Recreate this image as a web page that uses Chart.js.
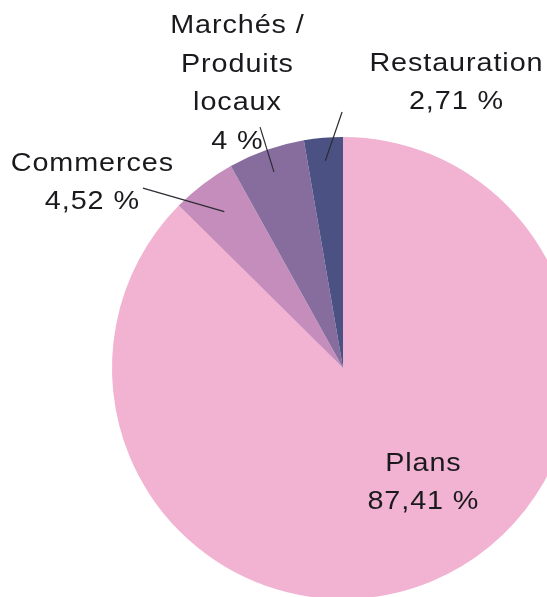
<html>
  <head>
    <script src="https://cdn.jsdelivr.net/npm/chart.js@4/dist/chart.umd.min.js"></script>
  </head>
  <body>
    <div id="wrap"><canvas id="pie"></canvas></div>
    <style>
      html, body{
        margin: 0;
        overflow: hidden;
        background: #ffffff;
      }
      #wrap{
        position: absolute;
        left: 0;
        top: 0;
        width: 686px;
        height: 736px;
      }
    </style>
    <script>
      // slices, clockwise from 12 o'clock
      var categories = [['Plans'], ['Commerces'], ['Marchés /', 'Produits', 'locaux'], ['Restauration']];
      var shares = [87.41, 4.52, 5.36, 2.71];
      var shareLabels = ['87,41 %', '4,52 %', '4 %', '2,71 %'];
      var colors = ['#f2b3d2', '#c58dbb', '#876d9e', '#4b5283'];

      // label placement, in units of the radius, relative to the centre
      var labelPos = [
        {x: 0.346, y: 0.489},
        {x: -1.087, y: -0.810, line: {x: -0.866, y: -0.779, r: 0.85}},
        {x: -0.459, y: -1.238, line: {x: -0.359, y: -1.043, r: 0.90}},
        {x: 0.489, y: -1.242, line: {x: -0.004, y: -1.108, r: 0.90}}
      ];

      var pieLabels = {
        id: 'pieLabels',
        afterDraw: function(chart){
          var ctx = chart.ctx;
          var arcs = chart.getDatasetMeta(0).data;
          ctx.save();
          arcs.forEach(function(arc, i){
            var p = arc.getProps(['x', 'y', 'startAngle', 'endAngle', 'outerRadius'], true);
            var r = p.outerRadius;
            var lp = labelPos[i];
            if (lp.line){
              var mid = (p.startAngle + p.endAngle) / 2;
              ctx.beginPath();
              ctx.strokeStyle = '#2b2b33';
              ctx.lineWidth = 1.2;
              ctx.moveTo(p.x + lp.line.x * r, p.y + lp.line.y * r);
              ctx.lineTo(p.x + Math.cos(mid) * r * lp.line.r, p.y + Math.sin(mid) * r * lp.line.r);
              ctx.stroke();
            }
            var lines = categories[i].concat([shareLabels[i]]);
            var lh = 38.6;
            var cx = p.x + lp.x * r;
            var cy = p.y + lp.y * r - (lines.length - 1) * lh / 2;
            // the labels are drawn a little wide, like the original
            var sx = 1.15;
            ctx.save();
            ctx.translate(cx, 0);
            ctx.scale(sx, 1);
            ctx.font = '25px "Liberation Sans", Arial, sans-serif';
            ctx.letterSpacing = '0.8px';
            ctx.fillStyle = '#1a1a1e';
            ctx.textAlign = 'center';
            ctx.textBaseline = 'alphabetic';
            lines.forEach(function(t, k){
              ctx.fillText(t, 0.4, cy + k * lh + 9);
            });
            ctx.restore();
          });
          ctx.restore();
        }
      };

      var chartConfig = {
        type: 'pie',
        data: {
          labels: categories.map(function(c){ return c.join(' '); }),
          datasets: [{data: shares, backgroundColor: colors, borderWidth: 0}]
        },
        options: {
          responsive: true,
          maintainAspectRatio: false,
          animation: false,
          layout: {
            padding: {left: 112, right: 112, top: 137, bottom: 137}
          },
          plugins: {
            legend: {display: false},
            tooltip: {enabled: false}
          }
        },
        plugins: [pieLabels]
      };
      var graph = new Chart(document.getElementById('pie'), chartConfig);
    </script>
  </body>
</html>
